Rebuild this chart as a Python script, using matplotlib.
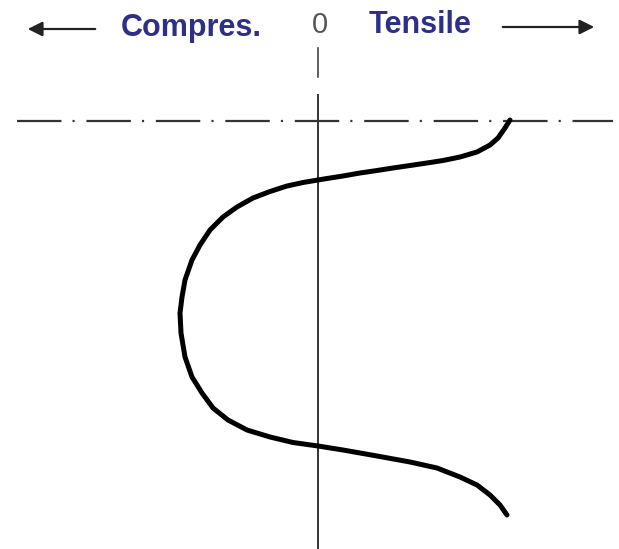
import numpy as np
import matplotlib
matplotlib.use("Agg")
import matplotlib.pyplot as plt

# stress profile: stress (0 = neutral axis, + tensile),
# depth measured down from the surface line
stress = [192, 187, 180, 172, 159, 142, 125, 109, 92, 75, 59, 42, 25, 9, 0,
          -15, -31, -48, -65, -81, -95, -108, -118, -126, -133, -136, -138,
          -137, -133, -126, -116, -105, -90, -71, -48, -25, 0,
          25, 59, 92, 119, 142, 159, 172, 182, 189]
depth = [-1, 7, 17, 24, 31, 36, 39.5, 42, 44.5, 47, 49.5, 52, 55, 57.5, 59,
         61.5, 65, 70.5, 77, 86, 96, 109, 124, 139, 159, 176, 192,
         212, 236, 256, 272, 287, 299, 309, 316, 321.5, 325,
         329, 335, 341, 347, 356, 364, 374, 384, 394]

label_left = "Compres."
label_right = "Tensile"
label_zero = "0"

plt.rcParams['lines.scale_dashes'] = False

fig = plt.figure(figsize=(6.19, 5.49), dpi=100)
ax = fig.add_axes([0, 0, 1, 1])
ax.set_xlim(-318, 301)
ax.set_ylim(428, -121)
ax.axis('off')

# surface line (dash-dot)
ax.plot([-301, 295], [0, 0], color='#333333', lw=1.6,
        linestyle=(0, (32, 8, 1.5, 8.5)))

# zero-stress axis
ax.plot([0, 0], [-73, -44], color='#444444', lw=1.2)
ax.plot([0, 0], [-26, 428], color='#333333', lw=1.4)

# stress curve
ax.plot(stress, depth, color='black', lw=3.6, solid_capstyle='round',
        solid_joinstyle='round')

# direction arrows
arrow = dict(arrowstyle='-|>', color='#222222', lw=1.6, mutation_scale=22)
ax.annotate('', xy=(-293, -92), xytext=(-220, -92), arrowprops=arrow)
ax.annotate('', xy=(279, -94), xytext=(182, -94), arrowprops=arrow)

navy = '#2e3088'
ax.text(-127, -85, label_left, color=navy, fontsize=22, fontweight='bold',
        family='Liberation Sans', ha='center', va='baseline')
ax.text(102, -88, label_right, color=navy, fontsize=22, fontweight='bold',
        family='Liberation Sans', ha='center', va='baseline')
ax.text(2, -88, label_zero, color='#555555', fontsize=21,
        family='Liberation Sans', ha='center', va='baseline')

fig.savefig('out.png', dpi=100, facecolor='white')
